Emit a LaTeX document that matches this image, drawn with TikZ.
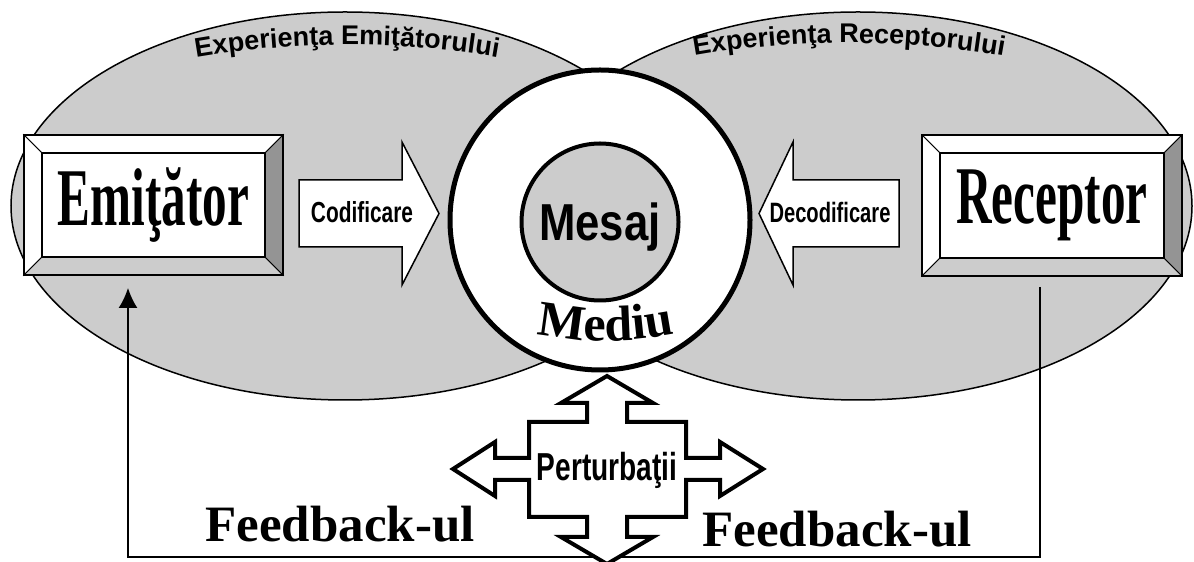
\documentclass[tikz,border=0pt]{standalone}
\usepackage{fontspec}
\usetikzlibrary{arrows.meta,calc,decorations.text,shapes.geometric}
\newfontfamily\boxfont[FakeStretch=0.6]{Liberation Serif Bold}
\newfontfamily\labelfont{Liberation Serif Bold}
\newfontfamily\narrowsans[FakeStretch=0.72]{Liberation Sans Bold}
\newfontfamily\msgfont[FakeStretch=0.84]{Liberation Sans Bold}
\newfontfamily\arcfont{Liberation Sans Bold}
\begin{document}
\begin{tikzpicture}[x=1pt, y=1pt,
        experience/.style={ellipse, draw, line width=1.5pt, fill=black!20,
            minimum width=668pt, minimum height=388pt, inner sep=0pt},
        bevelbox/.style={fill=white, inner sep=0pt, minimum width=223pt,
            minimum height=104pt, font=\boxfont\fontsize{82}{82}\selectfont},
        bigarrow/.style={draw, line width=1.5pt, fill=white, line join=miter},
        cross/.style={draw, line width=4pt, fill=white, line join=miter},
        arctext/.style={decorate, decoration={text along path,
            text align=center, text={#1}}},
        sanslabel/.style={font=\narrowsans\fontsize{#1}{#1}\selectfont},
        feedback/.style={line width=1.5pt, -{Latex[length=20pt, width=19pt]}},
        fbtext/.style={anchor=base, font=\labelfont\fontsize{51}{51}\selectfont}
    ]
        \useasboundingbox (0,0) rectangle (1194,562);

        \node[experience] (expE) at (345,356) {};
        \node[experience] (expR) at (858,356) {};
        \path[arctext={|\arcfont\fontsize{27}{27}\selectfont|Experienţa Emiţătorului}]
            (347,405) ++(135:330 and 112)
            arc[start angle=135, end angle=45, x radius=330, y radius=112];
        \path[arctext={|\arcfont\fontsize{27}{27}\selectfont|Experienţa Receptorului}]
            (849,407) ++(135:330 and 112)
            arc[start angle=135, end angle=45, x radius=330, y radius=112];

        \node[bevelbox] (emit) at (153.5,357) {Emiţător};
        \node[bevelbox] (recv) at (1052,356.5) {Receptor};
        \foreach \b in {emit,recv} {
            \filldraw[fill=white, line width=0.8pt] (\b.north west) -- ($(\b.north west)+(-18,18)$)
                -- ($(\b.north east)+(18,18)$) -- (\b.north east) -- cycle;
            \filldraw[fill=white, line width=0.8pt] (\b.north west) -- ($(\b.north west)+(-18,18)$)
                -- ($(\b.south west)+(-18,-18)$) -- (\b.south west) -- cycle;
            \filldraw[fill=black!20, line width=0.8pt] (\b.south west) -- ($(\b.south west)+(-18,-18)$)
                -- ($(\b.south east)+(18,-18)$) -- (\b.south east) -- cycle;
            \filldraw[fill=black!42, line width=0.8pt] (\b.south east) -- ($(\b.south east)+(18,-18)$)
                -- ($(\b.north east)+(18,18)$) -- (\b.north east) -- cycle;
            \draw[line width=1.8pt] ($(\b.south west)+(-18,-18)$) rectangle ($(\b.north east)+(18,18)$);
            \draw[line width=1.8pt] (\b.south west) rectangle (\b.north east);
        }

        \draw[bigarrow] (299,382) -- (402,382) -- (402,420) -- (439,348.5)
            -- (402,277) -- (402,315) -- (299,315) -- cycle;
        \node[sanslabel=29] (codif) at (362,350) {Codificare};
        \draw[bigarrow] (899,382) -- (793,382) -- (793,420) -- (759,348.5)
            -- (793,277) -- (793,315) -- (899,315) -- cycle;
        \node[sanslabel=28] (decodif) at (830,350) {Decodificare};

        \node[circle, draw, line width=5pt, fill=white, minimum size=300pt,
            inner sep=0pt] (medium) at (600,342) {};
        \node[circle, draw, line width=4pt, fill=black!20, minimum size=157pt, inner sep=0pt,
            text depth=0pt, font=\msgfont\fontsize{52}{52}\selectfont] (msg) at (600,340) {Mesaj};
        \path[arctext={|\labelfont\fontsize{50}{50}\selectfont|Mediu}]
            (606,551) ++(250:330) arc[start angle=250, end angle=290, radius=330];

        \coordinate (fbStart) at (1040,275);
        \coordinate (fbTurn) at (600,5);
        \coordinate (fbEnd) at (128,274);
        \draw[feedback] (fbStart) |- (fbTurn) -| (fbEnd);

        \draw[cross] (607,186) -- (653,159) -- (627,159) -- (627,140) -- (686,140)
            -- (686,104) -- (720,104) -- (720,120) -- (763,93) -- (720,66) -- (720,82)
            -- (686,82) -- (686,45) -- (627,45) -- (627,25) -- (653,25) -- (607,-2)
            -- (561,25) -- (587,25) -- (587,45) -- (529,45) -- (529,82) -- (495,82)
            -- (495,66) -- (453,93) -- (495,120) -- (495,104) -- (529,104) -- (529,140)
            -- (587,140) -- (587,159) -- (561,159) -- cycle;
        \node[sanslabel=39] (noise) at (607,92) {Perturbaţii};

        \node[fbtext] (fbTextL) at (340,20) {Feedback-ul};
        \node[fbtext] (fbTextR) at (837,15) {Feedback-ul};
    \end{tikzpicture}
\end{document}
